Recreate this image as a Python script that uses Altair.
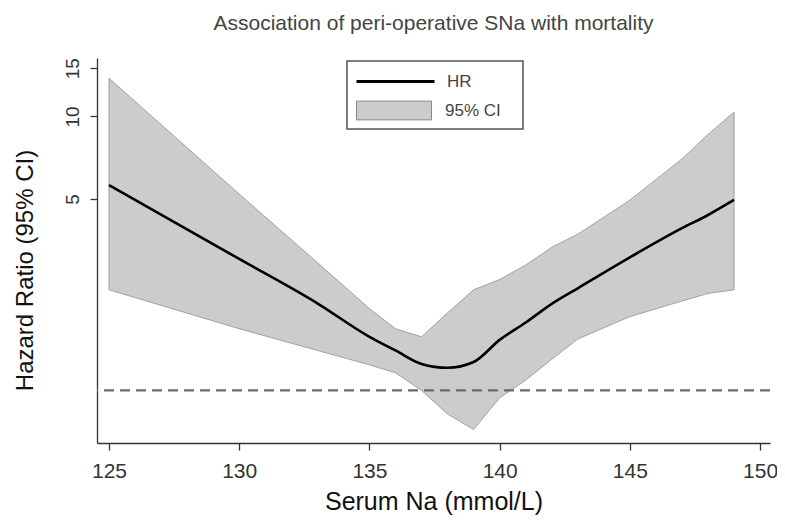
import altair as alt
import pandas as pd

# Serum sodium (mmol/L) grid
na = [125, 130, 133, 135, 136, 137, 138, 139, 140, 141, 142, 143, 145, 147, 148, 149]
# Hazard ratio
hr = [5.62, 3.02, 2.08, 1.57, 1.40, 1.25, 1.21, 1.27, 1.53, 1.77, 2.07, 2.36, 3.06, 3.91, 4.37, 4.96]
# 95% CI bounds
ci_upper = [13.8, 5.21, 2.93, 1.99, 1.68, 1.57, 1.92, 2.33, 2.54, 2.87, 3.33, 3.72, 4.95, 7.0, 8.6, 10.38]
ci_lower = [2.33, 1.68, 1.40, 1.24, 1.16, 1.00, 0.82, 0.72, 0.94, 1.09, 1.30, 1.54, 1.86, 2.12, 2.26, 2.33]

x_ticks = [125, 130, 135, 140, 145, 150]
y_ticks = [5, 10, 15]
ref_value = [1]

df = pd.DataFrame({"na": na, "hr": hr, "lo": ci_lower, "hi": ci_upper})
ref_df = pd.DataFrame({"ref": ref_value})

FONT = "Liberation Sans"

x_axis = alt.Axis(
    values=x_ticks, title="Serum Na (mmol/L)", tickSize=7, labelFontSize=21,
    labelPadding=10, labelFlush=False, labelColor="#333", titleFontSize=25,
    titleFontWeight="normal", titleColor="#111", titleBaseline="alphabetic",
    titleY=66, grid=False,
)
y_axis = alt.Axis(
    values=y_ticks, format="d", title="Hazard Ratio (95% CI)", tickSize=7,
    labelAngle=270, labelAlign="center", labelBaseline="alphabetic",
    labelPadding=12, labelFontSize=19, labelColor="#333", grid=False,
    titleFontSize=24, titleFontWeight="normal", titleColor="#111",
    titleAngle=270, titleAlign="center", titleBaseline="alphabetic",
    titleX=-65, titleY=212,
)
x_scale = alt.Scale(domain=[124.54, 150.38], nice=False, zero=False)
y_scale = alt.Scale(type="log", domain=[0.643, 16.35], nice=False)

common_legend = dict(title=None, orient="none", padding=0, labelFontSize=17,
                     labelColor="#444", labelFont=FONT)

hr_legend = alt.Legend(
    legendX=258, legendY=-17, symbolType="M-1,0H1", symbolSize=6084,
    symbolStrokeWidth=3, labelOffset=11, **common_legend,
)
ci_legend = alt.Legend(
    legendX=259, legendY=14.5, symbolType="M-1,-0.25H1V0.25H-1Z", symbolSize=5625,
    symbolStrokeColor="#888888", symbolStrokeWidth=1, labelOffset=13, **common_legend,
)
frame_legend = alt.Legend(
    legendX=249, legendY=-52, symbolType="M-1,-0.386H1V0.386H-1Z", symbolSize=30976,
    symbolFillColor="transparent", symbolStrokeColor="#555555", symbolStrokeWidth=1.5,
    labelExpr="''", **common_legend,
)

band = alt.Chart(df).transform_calculate(s2="'95% CI'", s3="'box'").mark_area(
    stroke="#9a9a9a", strokeWidth=0.9
).encode(
    x=alt.X("na:Q", scale=x_scale, axis=x_axis),
    y=alt.Y("lo:Q", scale=y_scale, axis=y_axis),
    y2="hi:Q",
    fill=alt.Fill("s2:N", scale=alt.Scale(domain=["95% CI"], range=["#cccccc"]), legend=ci_legend),
    opacity=alt.Opacity("s3:N", scale=alt.Scale(domain=["box"], range=[1]), legend=frame_legend),
)
rule = alt.Chart(ref_df).mark_rule(color="#6a6a6a", strokeDash=[10, 6], strokeWidth=2.2).encode(
    y=alt.Y("ref:Q", scale=y_scale, axis=y_axis)
)
line = alt.Chart(df).transform_calculate(s1="'HR'").mark_line(
    strokeWidth=2.6, interpolate="monotone"
).encode(
    x=alt.X("na:Q", scale=x_scale, axis=x_axis),
    y=alt.Y("hr:Q", scale=y_scale, axis=y_axis),
    stroke=alt.Stroke("s1:N", scale=alt.Scale(domain=["HR"], range=["#000000"]), legend=hr_legend),
)

chart = alt.layer(band, rule, line).properties(
    width=673, height=385, autosize="none",
    padding={"left": 89, "top": 50, "right": 7, "bottom": 72},
    title=alt.TitleParams(
        "Association of peri-operative SNa with mortality", fontSize=21,
        fontWeight="normal", color="#444", frame="group", anchor="middle",
        baseline="alphabetic", offset=30, dy=75, font=FONT,
    ),
).configure(font=FONT).configure_view(stroke=None).configure_axis(
    domainColor="#333", tickColor="#333", domainWidth=1.3, tickWidth=1.3,
    labelFont=FONT, titleFont=FONT,
)

chart.save("out.html", embed_options={"renderer": "svg", "actions": False})
